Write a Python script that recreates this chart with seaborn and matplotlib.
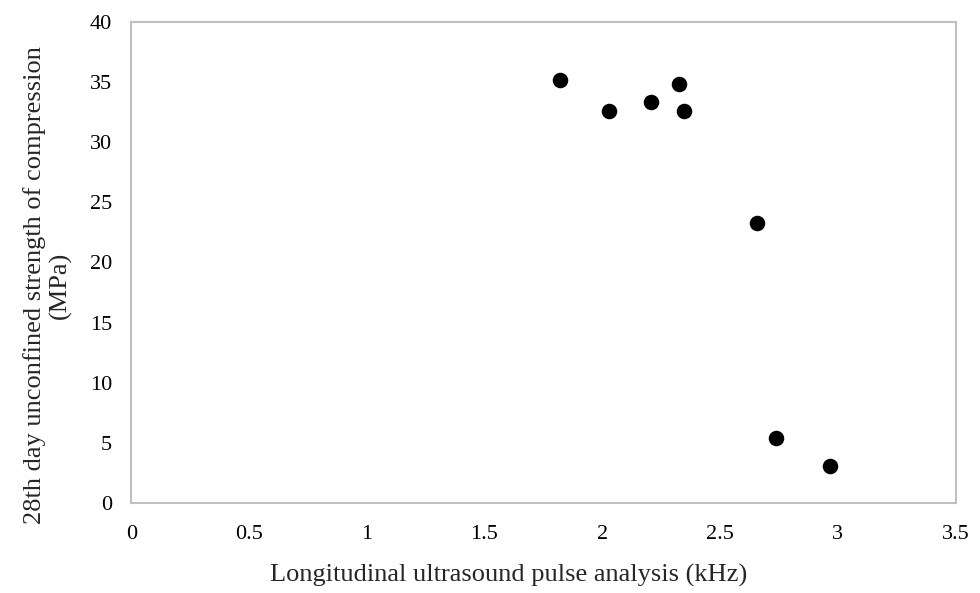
import matplotlib
matplotlib.use("Agg")
import matplotlib.pyplot as plt
import seaborn as sns
import pandas as pd

# Values
frequency_khz = [1.82, 2.03, 2.205, 2.327, 2.345, 2.655, 2.738, 2.966]
strength_mpa = [35.2, 32.6, 33.3, 34.8, 32.6, 23.3, 5.4, 3.1]
x_ticks = [0, 0.5, 1, 1.5, 2, 2.5, 3, 3.5]
x_tick_labels = ["0", "0.5", "1", "1.5", "2", "2.5", "3", "3.5"]
y_ticks = [0, 5, 10, 15, 20, 25, 30, 35, 40]

df = pd.DataFrame({"freq": frequency_khz, "ucs": strength_mpa})

sns.set_style("white")
plt.rcParams["font.family"] = ["Liberation Serif", "DejaVu Serif"]

fig = plt.figure(figsize=(9.8, 5.93), dpi=100)
ax = fig.add_axes([0.134, 0.152, 0.841, 0.811])

sns.scatterplot(data=df, x="freq", y="ucs", ax=ax, color="black", s=125,
                edgecolor="black", linewidth=0, legend=False)

ax.set_xlim(0, 3.5)
ax.set_ylim(0, 40)
ax.set_xticks(x_ticks)
ax.set_xticklabels(x_tick_labels)
ax.set_yticks(y_ticks)
ax.tick_params(axis="both", length=0, labelsize=16, colors="black")
ax.tick_params(axis="x", pad=16)
ax.tick_params(axis="y", pad=14)

for side in ["left", "right", "top", "bottom"]:
    ax.spines[side].set_visible(True)
    ax.spines[side].set_color("#BFBFBF")
    ax.spines[side].set_linewidth(1.5)

ax.set_xlabel("Longitudinal ultrasound pulse analysis (kHz)", fontsize=19)
ax.set_ylabel("28th day unconfined strength of compression\n(MPa)", fontsize=19,
              linespacing=1.15)
ax.xaxis.set_label_coords(0.4575, -0.127)
ax.yaxis.set_label_coords(-0.072, 0.453)

fig.savefig("out.png", dpi=100)
